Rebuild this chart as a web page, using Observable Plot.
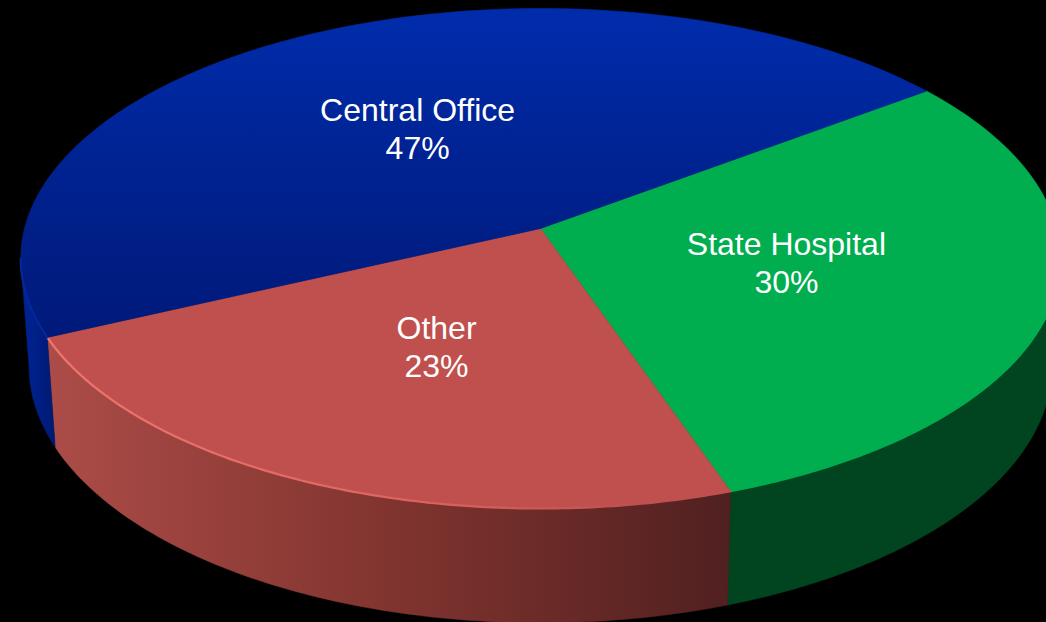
<!DOCTYPE html>
<html>
<head>
<meta charset="utf-8">
<style>html,body{margin:0;padding:0;background:#000;overflow:hidden}svg{display:block}</style>
<script src="https://cdn.jsdelivr.net/npm/d3@7"></script>
<script src="https://cdn.jsdelivr.net/npm/@observablehq/plot@0.6"></script>
</head>
<body>
<script>
const categories = ["State Hospital", "Other", "Central Office"];
const shares = [29.9, 23.4, 46.7];
const labelRadius = [0.49, 0.5, 0.485];
const labelNudge = [0, 3, -1];
const faceFills = ["#00AD4F", "#C0504D", "url(#blueFace)"];
const wallFills = ["#004420", "url(#redWall)", "url(#blueWall)"];
const rimColors = ["#00AD4F", "url(#redRim)", "#04279C"];

const W = 1046, H = 622;
const startAngle = 53.3, cx = 540, cy = 228, B = 516, A = 246.4, k = 0.12;
const depthX = 0.984, depthY = 1.026, depthCy = 335;
const wallFrom = 97, wallTo = 263;
const rad = d3.scaleLinear().domain([0, 180]).range([0, Math.PI]);

function topPt(deg, r = 1) {
  const u = r * Math.sin(rad(deg)), v = -r * Math.cos(rad(deg)), d = 1 - k * v;
  return {x: cx + B * u / d, y: cy + A * v / d};
}
function bottomPt(deg) {
  const p = topPt(deg);
  return {x: cx + depthX * (p.x - cx), y: depthCy + depthY * (p.y - cy)};
}

let acc = startAngle;
const slices = categories.map((name, i) => {
  const a0 = acc, a1 = acc + shares[i] * 3.6;
  acc = a1;
  return {name, share: Math.round(shares[i]), a0, a1, mid: (a0 + a1) / 2, lr: labelRadius[i], nudge: labelNudge[i], face: faceFills[i], wall: wallFills[i], rim: rimColors[i]};
});
const arc = (a0, a1) => d3.range(0, 121).map(j => a0 + (a1 - a0) * j / 120);
const facePts = s => [{x: cx, y: cy}, ...arc(s.a0, s.a1).map(a => topPt(a)), {x: cx, y: cy}];
const rimPts = s => arc(Math.max(s.a0, wallFrom), Math.min(s.a1, wallTo)).map(a => topPt(a));
const wallPts = s => {
  const as = arc(Math.max(s.a0, wallFrom), Math.min(s.a1, wallTo));
  const p = [...as.map(a => topPt(a)), ...as.slice().reverse().map(a => bottomPt(a))];
  p.push(p[0]);
  return p;
};
const labels = slices.map(s => {
  const p = topPt(s.mid, s.lr);
  return {x: p.x + s.nudge, y: p.y, text: `${s.name}\n${s.share}%`};
});

const defs = () => {
  const svg = d3.create("svg:defs");
  const grad = (id, x1, y1, x2, y2, stops) => {
    const g = svg.append("linearGradient").attr("id", id).attr("gradientUnits", "userSpaceOnUse")
      .attr("x1", x1).attr("y1", y1).attr("x2", x2).attr("y2", y2);
    stops.forEach(([o, c]) => g.append("stop").attr("offset", o).attr("stop-color", c));
  };
  grad("blueFace", 0, 8, 0, 340, [[0, "#002CAC"], [0.65, "#001F88"], [1, "#00197A"]]);
  grad("blueWall", 20, 0, 55, 0, [[0, "#002499"], [1, "#001A70"]]);
  grad("redWall", 48, 0, 732, 0, [[0, "#AC4C48"], [0.5, "#81342F"], [1, "#502020"]]);
  grad("redRim", 48, 0, 640, 0, [[0, "#F0756E"], [0.6, "#DD6560"], [1, "#C0504D"]]);
  return svg.node();
};

const chart = Plot.plot({
  width: W, height: H, margin: 0,
  style: {background: "#000"},
  x: {axis: null, domain: [0, W], range: [0, W]},
  y: {axis: null, domain: [0, H], range: [0, H]},
  marks: [
    defs,
    ...slices.map(s => Plot.line(wallPts(s), {x: "x", y: "y", fill: s.wall, stroke: s.wall, strokeWidth: 0.5, curve: "linear"})),
    ...slices.flatMap(s => [
      Plot.line(facePts(s), {x: "x", y: "y", fill: s.face, stroke: s.face, strokeWidth: 0.6, curve: "linear"}),
      Plot.line(rimPts(s), {x: "x", y: "y", stroke: s.rim, strokeWidth: 2.2, curve: "linear"})
    ]),
    Plot.text(labels, {x: "x", y: "y", dy: -2.5, text: "text", fill: "#fff", fontSize: 32, lineHeight: 1.19, fontFamily: "Liberation Sans, Arial, sans-serif", textAnchor: "middle", lineAnchor: "middle"})
  ]
});
document.body.appendChild(chart);
</script>
</body>
</html>
